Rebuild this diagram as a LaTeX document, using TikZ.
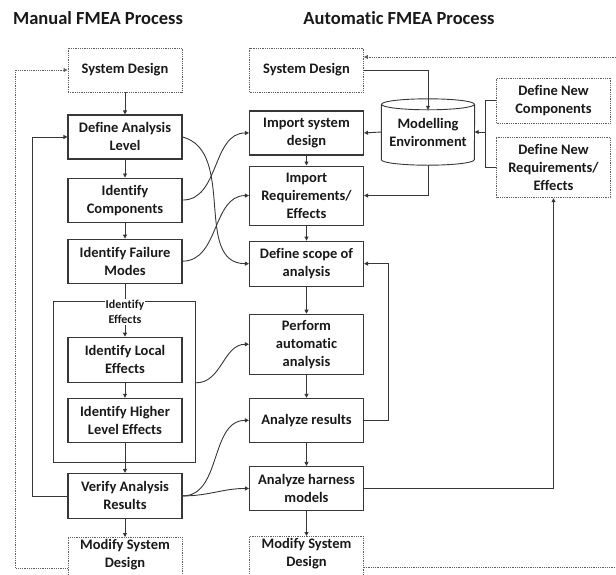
\documentclass[tikz,border=0pt]{standalone}
\usepackage{fontspec}
\setmainfont{Carlito}[Ligatures=NoCommon]
\usetikzlibrary{arrows.meta, positioning, fit, calc}
\definecolor{linegray}{RGB}{55,55,55}
\definecolor{dotgray}{RGB}{95,95,95}

\begin{document}
\begin{tikzpicture}[
  x=1pt, y=1pt,
  font=\bfseries\fontsize{14.5}{18}\selectfont,
  box/.style={draw=linegray, line width=1.1pt, align=center, inner sep=2pt,
              text=black!90, minimum width=114pt, minimum height=44pt},
  tallbox/.style={box, minimum height=60pt},
  dotbox/.style={box, draw=dotgray, line width=0.8pt, densely dotted},
  endbox/.style={dotbox, minimum height=48pt, text depth=29pt},
  groupbox/.style={draw=linegray, line width=1.1pt, inner sep=0pt},
  arr/.style={-{Triangle[length=4pt,width=4pt]}, line width=0.9pt, draw=linegray},
  darr/.style={arr, draw=dotgray, line width=0.8pt, densely dotted},
  line/.style={line width=0.9pt, draw=linegray},
  dline/.style={line, draw=dotgray, line width=0.8pt, densely dotted},
  title/.style={font=\bfseries\fontsize{18.5}{22}\selectfont, text=black!90},
  small/.style={font=\bfseries\fontsize{12}{15}\selectfont, text=black!90},
]
\useasboundingbox (0,0) rectangle (616,-574);

% ── Manual FMEA ────────────────────────────────────────────────
\node[title] (tman) at (98,-18) {Manual FMEA Process};

\node[dotbox] (lsd) at (125,-70) {System Design};
\node[box, below=22pt of lsd] (dal) {Define Analysis\\Level};
\node[box, below=18pt of dal] (ic) {Identify\\Components};
\node[box, below=16pt of ic] (ifm) {Identify Failure\\Modes};
\node[box, below=53pt of ifm, minimum height=45pt] (ile) {Identify Local\\Effects};
\node[box, below=15pt of ile] (ihle) {Identify Higher\\Level Effects};
\node[box, below=30pt of ihle, minimum height=45pt] (ver) {Verify Analysis\\Results};
\node[endbox, below=18pt of ver] (lmod) {Modify System\\Design};

\node[groupbox, fit={($(ile.north west)+(-14,35)$) ($(ihle.south east)+(13,-20)$)}] (grp) {};

\draw[arr] (lsd) -- (dal);
\draw[arr] (dal) -- (ic);
\draw[arr] (ic) -- (ifm);
\draw[arr] (ifm) -- (ile);
\draw[arr] (ile) -- (ihle);
\draw[arr] (ihle) -- (ver);
\draw[arr] (ver) -- (lmod);
\node[small, fill=white, inner sep=1pt, align=center] (efflbl) at (125,-312)
  {Identify\\Effects};

\draw[arr] (ver.west) -- ++(-35,0) |- (dal.west);
\draw[darr] (lmod.west) -- ++(-52,0) |- (lsd.west);

% ── Automatic FMEA ─────────────────────────────────────────────
\node[title] (tauto) at (399,-18) {Automatic FMEA Process};

\node[dotbox] (asd) at (306.5,-70) {System Design};
\node[box, below=18pt of asd] (aisd) {Import system\\design};
\node[tallbox, below=10pt of aisd, minimum height=59pt] (aire) {Import\\Requirements/\\Effects};
\node[box, below=15pt of aire, minimum height=45pt] (adsa) {Define scope of\\analysis};
\node[tallbox, below=27pt of adsa] (apaa) {Perform\\automatic\\analysis};
\node[box, below=23pt of apaa] (aar) {Analyze results};
\node[box, below=23pt of aar] (ahm) {Analyze harness\\models};
\node[endbox, below=25pt of ahm] (amod) {Modify System\\Design};

\node[align=center, text=black!90, minimum width=93pt, minimum height=66pt,
  inner sep=0pt] (env) at (428,-132) {Modelling\\Environment};
\draw[line] ($(env.north west)+(0,-5.5)$) -- ($(env.south west)+(0,5.5)$)
  arc[start angle=180, end angle=360, x radius=46.5, y radius=5.5]
  -- ($(env.north east)+(0,-5.5)$);
\draw[line] ($(env.north)+(0,-5.5)$) ellipse[x radius=46.5, y radius=5.5];

\node[dotbox, minimum height=45pt] (dnc) at (553.5,-100.5) {Define New\\Components};
\node[dotbox, below=14pt of dnc, minimum height=60pt] (dnre) {Define New\\Requirements/\\Effects};

\draw[arr] (aisd) -- (aire);
\draw[arr] (aire) -- (adsa);
\draw[arr] (adsa) -- (apaa);
\draw[arr] (apaa) -- (aar);
\draw[arr] (aar) -- (ahm);
\draw[arr] (ahm) -- (amod);

\draw[arr] (asd.east) -| ($(env.north)+(0,-11)$);
\draw[arr] (env.west) -- (aisd.east);
\draw[arr] (env.south) |- (aire.east);
\coordinate (brk) at ($(dnc.west)+(-11,0)$);
\draw[line] (dnc.west) -- (brk) |- (dnre.west);
\draw[arr] (brk |- env.east) -- (env.east);
\draw[arr] (aar.east) -- ++(24,0) |- (adsa.east);
\draw[arr] (ahm.east) -| (dnre.south);

\coordinate (rtop) at (616,-57);
\draw[darr] (rtop) -- (rtop -| asd.east);
\draw[dline] (amod.east) -- (amod.east -| rtop);

% ── Cross links ────────────────────────────────────────────────
\draw[arr] (dal.east) to[out=-15, in=180] (adsa.west);
\draw[arr] (ic.east) to[out=0, in=180] (aisd.west);
\draw[arr] (ifm.east) to[out=0, in=180] (aire.west);
\draw[arr] (grp.east |- ile.south) to[out=0, in=180] (apaa.west);
\draw[arr] (ver.east) to[out=0, in=180] (aar.west);
\draw[arr] (ver.east) to[out=0, in=180] (ahm.west);

\end{tikzpicture}
\end{document}
